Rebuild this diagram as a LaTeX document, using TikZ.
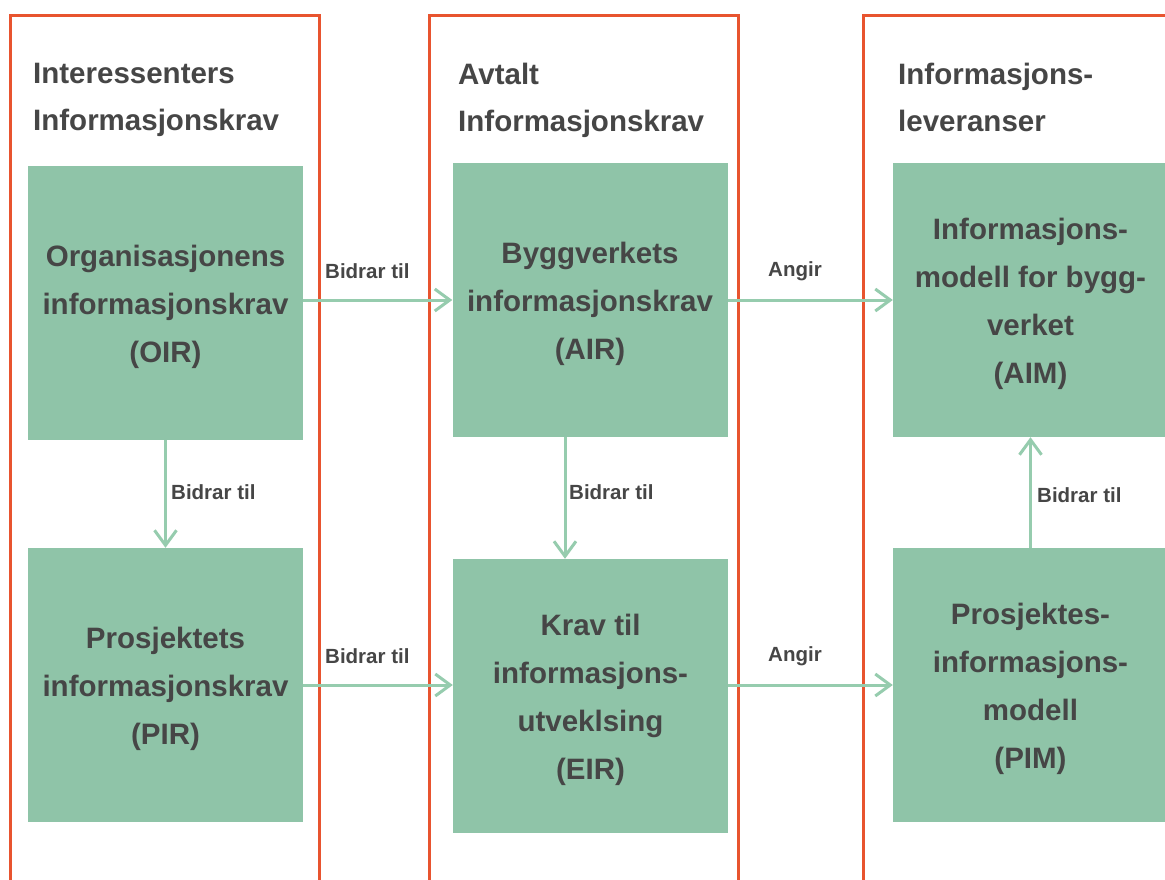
\documentclass[tikz,border=0pt]{standalone}
\usepackage{fontspec}
\setmainfont{Liberation Sans}
\usetikzlibrary{arrows.meta,calc}

\definecolor{frameRed}{HTML}{E8542F}
\definecolor{boxGreen}{HTML}{8FC4A8}
\definecolor{arrowGreen}{HTML}{96CCAE}
\definecolor{txt}{HTML}{464646}

\tikzset{
  panel/.style={draw=frameRed, line width=3pt},
  box/.style={fill=boxGreen, minimum width=275pt, minimum height=274pt,
    inner sep=0pt},
  % the text block sits slightly below the box centre
  boxtext/.style={align=center, text=txt, inner sep=0pt, yshift=-4pt,
    font=\fontsize{29.5}{48}\selectfont\bfseries},
  heading/.style={anchor=north west, align=left, text=txt, inner sep=0pt,
    font=\fontsize{29.5}{46.5}\selectfont\bfseries},
  flow/.style={draw=arrowGreen, line width=3pt,
    -{Straight Barb[length=15pt,width=22pt,line width=3pt]}},
  lbl/.style={anchor=west, text=txt, inner sep=0pt,
    font=\fontsize{20.5}{24}\selectfont\bfseries},
}

\begin{document}
\begin{tikzpicture}[x=1pt,y=-1pt]
\useasboundingbox[fill=white] (0,0) rectangle (1165,879);

% three open-bottomed panels
\draw[panel] (10,900) |- (319,15) -- (319,900);
\draw[panel] (429,900) |- (738,15) -- (738,900);
\draw[panel] (863,900) |- (1200,15);

% panel headings
\node[heading] (h1) at (33,63) {Interessenters\\Informasjonskrav};
\node[heading] (h2) at (458,63) {Avtalt\\Informasjonskrav};
\node[heading] (h3) at (898,63) {Informasjons-\\leveranser};

% requirement / model boxes
\node[box, label={[boxtext]center:{Organisasjonens\\informasjonskrav\\(OIR)}}]
  (OIR) at (165.5,303) {};
\node[box, label={[boxtext]center:{Prosjektets\\informasjonskrav\\(PIR)}}]
  (PIR) at (165.5,685) {};
\node[box, label={[boxtext]center:{Byggverkets\\informasjonskrav\\(AIR)}}]
  (AIR) at (590,300) {};
\node[box, label={[boxtext]center:{Krav til\\informasjons-\\utveklsing\\(EIR)}}]
  (EIR) at (590.5,696) {};
\node[box, label={[boxtext]center:{Informasjons-\\modell for bygg-\\verket\\(AIM)}}]
  (AIM) at (1030.5,300) {};
\node[box, label={[boxtext]center:{Prosjektes-\\informasjons-\\modell\\(PIM)}}]
  (PIM) at (1030.5,685) {};

% connectors
\draw[flow] (OIR.east |- AIR.west) -- (AIR.west);
\draw[flow] (AIR.east) -- (AIM.west);
\draw[flow] (PIR.east) -- (PIR.east -| EIR.west);
\draw[flow] (EIR.east |- PIM.west) -- (PIM.west);
\draw[flow] (OIR.south) -- (PIR.north);
\coordinate (airOut) at ($(AIR.south)+(-25,0)$);
\draw[flow] (airOut) -- (airOut |- EIR.north);
\draw[flow] (PIM.north) -- (AIM.south);

% connector labels
\node[lbl] (l1) at (325,271) {Bidrar til};
\node[lbl] (l2) at (768,271) {Angir};
\node[lbl] (l3) at (325,656) {Bidrar til};
\node[lbl] (l4) at (768,656) {Angir};
\node[lbl] (l5) at (171,492) {Bidrar til};
\node[lbl] (l6) at (569,492) {Bidrar til};
\node[lbl] (l7) at (1037,495) {Bidrar til};
\end{tikzpicture}
\end{document}
